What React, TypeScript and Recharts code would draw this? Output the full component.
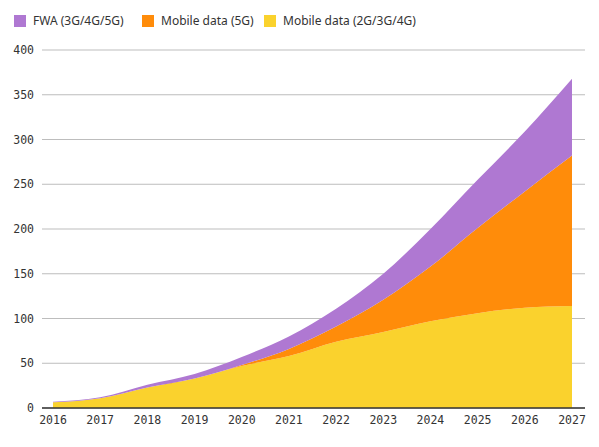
import { Area, AreaChart, CartesianGrid, XAxis, YAxis } from "recharts";

// Values (stacked, bottom to top)
const years = [2016, 2017, 2018, 2019, 2020, 2021, 2022, 2023, 2024, 2025, 2026, 2027];
const mobile4g = [6.5, 11, 23, 33, 47, 58, 74, 85, 97, 106, 112, 114];
const mobile5g = [0, 0, 0, 0, 1, 8, 17, 36, 61, 95, 130, 168];
const fwa = [0.5, 1, 3, 5, 9, 14, 20, 29, 42, 54, 67, 86];
const yTicks = [0, 50, 100, 150, 200, 250, 300, 350, 400];

const legendItems = [
  { label: "FWA (3G/4G/5G)", color: "#AF78D2", left: 14 },
  { label: "Mobile data (5G)", color: "#FF8C0A", left: 142 },
  { label: "Mobile data (2G/3G/4G)", color: "#FAD22D", left: 264 },
];

const data = years.map((year, i) => ({
  year,
  mobile4g: mobile4g[i],
  mobile5g: mobile5g[i],
  fwa: fwa[i],
}));

const tickFont = { fontFamily: "'DejaVu Sans Mono', monospace", fontSize: 11.5, fill: "#333" };

export default function App() {
  return (
    <div
      style={{
        position: "absolute",
        left: 0,
        top: 0,
        width: 599,
        height: 447,
        background: "#fff",
      }}
    >
      {/* legend — each item pinned where it sits in the original */}
      {legendItems.map((item) => (
        <div
          key={item.label}
          style={{
            position: "absolute",
            left: item.left,
            top: 12,
            display: "flex",
            alignItems: "center",
            fontFamily: "'Noto Sans', sans-serif",
            fontSize: 12,
            color: "#333",
            whiteSpace: "nowrap",
          }}
        >
          <span
            style={{
              display: "inline-block",
              width: 12,
              height: 12,
              background: item.color,
              marginRight: 7,
            }}
          />
          <span>{item.label}</span>
        </div>
      ))}

      <div style={{ position: "absolute", left: 0, top: 0 }}>
        <AreaChart
          width={599}
          height={447}
          data={data}
          margin={{ top: 50, right: 14, bottom: 9, left: 0 }}
        >
          <CartesianGrid vertical={false} stroke="#bdbdbd" strokeWidth={1} />
          <XAxis
            dataKey="year"
            height={30}
            padding={{ left: 11, right: 13 }}
            axisLine={{ stroke: "#333", strokeWidth: 1.5 }}
            tickLine={false}
            tick={tickFont}
            interval={0}
          />
          <YAxis
            width={42}
            domain={[0, 400]}
            ticks={yTicks}
            axisLine={false}
            tickLine={false}
            tick={tickFont}
          />
          <Area
            type="monotone"
            dataKey="mobile4g"
            stackId="a"
            stroke="none"
            fill="#FAD22D"
            fillOpacity={1}
            isAnimationActive={false}
          />
          <Area
            type="monotone"
            dataKey="mobile5g"
            stackId="a"
            stroke="none"
            fill="#FF8C0A"
            fillOpacity={1}
            isAnimationActive={false}
          />
          <Area
            type="monotone"
            dataKey="fwa"
            stackId="a"
            stroke="none"
            fill="#AF78D2"
            fillOpacity={1}
            isAnimationActive={false}
          />
        </AreaChart>
      </div>
    </div>
  );
}
